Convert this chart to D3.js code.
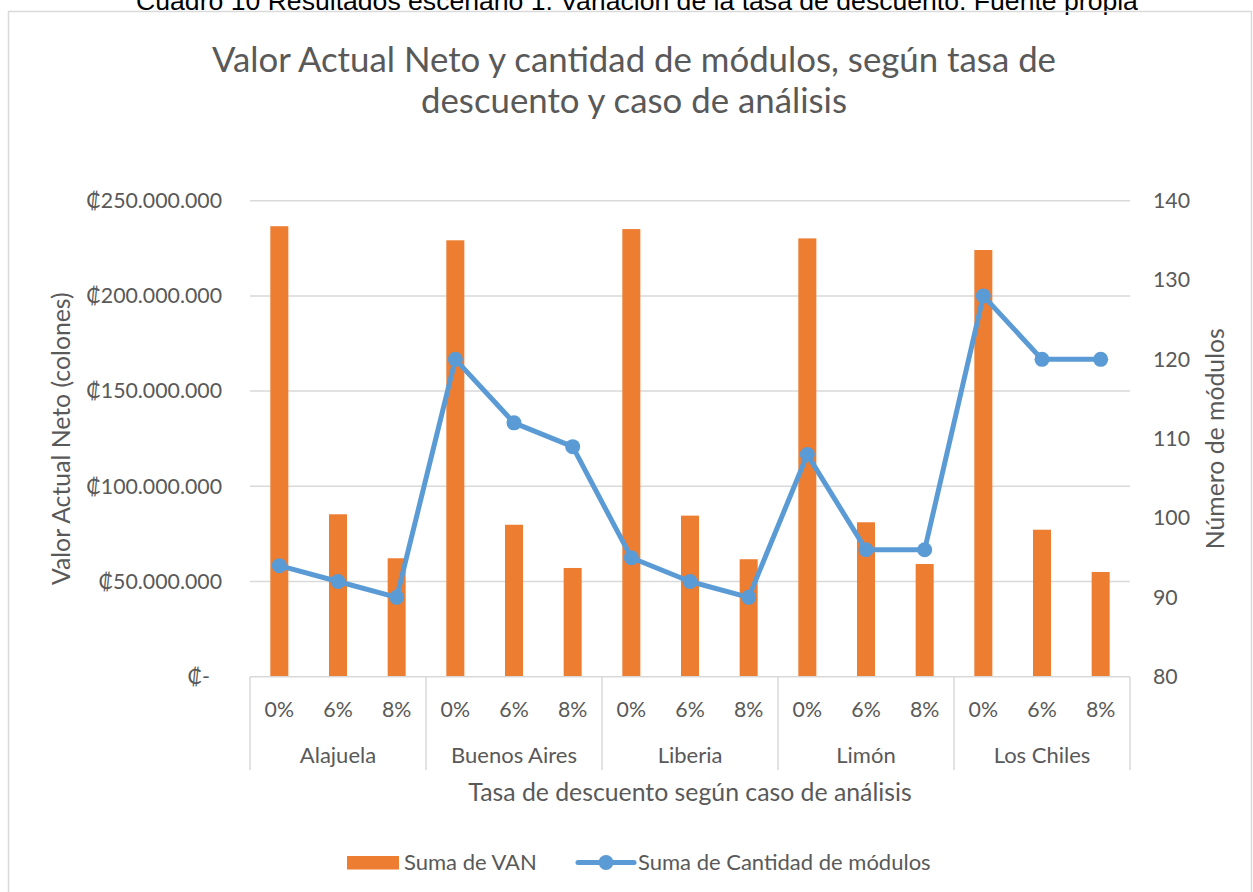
<!DOCTYPE html>
<html><head><meta charset="utf-8">
<script src="https://cdn.jsdelivr.net/npm/d3@7"></script>
<style>
html,body{margin:0;padding:0;background:#fff;}
svg{display:block;}
</style></head>
<body><svg id="c" width="1253" height="892"></svg>
<script>
const groups = ["Alajuela","Buenos Aires","Liberia","Limón","Los Chiles"];
const rates = ["0%","6%","8%"];
const van = [236.6e6,85.3e6,62.2e6, 229.2e6,79.8e6,57.1e6, 235.1e6,84.6e6,61.7e6, 230.2e6,81.1e6,59.2e6, 224.1e6,77.2e6,55.0e6];
const modulos = [94,92,90, 120,112,109, 95,92,90, 108,96,96, 128,120,120];
const leftTicks = [0,50e6,100e6,150e6,200e6,250e6];
const rightTicks = [80,90,100,110,120,130,140];

const caption = "Cuadro 10 Resultados escenario 1. Variación de la tasa de descuento. Fuente propia";
const titleLines = ["Valor Actual Neto y cantidad de módulos, según tasa de","descuento y caso de análisis"];

const FONT = "Lato, 'Open Sans', 'DejaVu Sans', sans-serif";
const GREY = "#595959";
const svg = d3.select("#c");

const rows = [];
groups.forEach((g,gi)=>rates.forEach((r,ri)=>rows.push({g, r, key:g+"|"+r, van:van[gi*3+ri], mod:modulos[gi*3+ri]})));

const L=250, R=1130, T=200.7, B=676.7;
const x = d3.scaleBand().domain(rows.map(d=>d.key)).range([L,R]).paddingInner(0.693).paddingOuter(0.3465);
const xg = d3.scaleBand().domain(groups).range([L,R]);
const y = d3.scaleLinear().domain([0,250e6]).range([B,T]);
const y2 = d3.scaleLinear().domain([80,140]).range([B,T]);

// caption
svg.append("text").attr("x",637).attr("y",10).attr("text-anchor","middle")
  .attr("font-family","'Liberation Sans', Arial, sans-serif").attr("font-size",26.6).attr("fill","#000").text(caption);
// border
svg.append("rect").attr("x",8.5).attr("y",11.5).attr("width",1243).attr("height",900)
  .attr("fill","none").attr("stroke","#d9d9d9").attr("stroke-width",1.5);

// title
svg.append("g").selectAll("text").data(titleLines).join("text")
  .attr("x",634).attr("y",(d,i)=>72+i*41).attr("text-anchor","middle")
  .attr("font-family",FONT).attr("font-size",34.8).attr("fill",GREY).text(d=>d);

// gridlines
svg.append("g").selectAll("line").data(leftTicks.slice(1)).join("line")
  .attr("x1",L).attr("x2",R).attr("y1",d=>y(d)).attr("y2",d=>y(d))
  .attr("stroke","#d9d9d9").attr("stroke-width",1.5);

// left axis
const fmt = d => d===0 ? "₡-" : "₡"+d3.format(",")(d).replace(/,/g,".");
const la = svg.append("g").attr("transform",`translate(${L},0)`)
  .call(d3.axisLeft(y).tickValues(leftTicks).tickFormat(fmt).tickSize(0).tickPadding(28));
la.select(".domain").remove();
la.selectAll("text").attr("font-family",FONT).attr("font-size",21.3).attr("fill",GREY);
la.selectAll(".tick").filter(d=>d===0).select("text").attr("dx",-12);

// right axis
const ra = svg.append("g").attr("transform",`translate(${R},0)`)
  .call(d3.axisRight(y2).tickValues(rightTicks).tickSize(0).tickPadding(23));
ra.select(".domain").remove();
ra.selectAll("text").attr("font-family",FONT).attr("font-size",21.3).attr("fill",GREY);

// bars
svg.append("g").selectAll("rect").data(rows).join("rect")
  .attr("x",d=>x(d.key)).attr("width",x.bandwidth())
  .attr("y",d=>y(d.van)).attr("height",d=>B-y(d.van)).attr("fill","#ED7D31");

// x axis box
const ax = svg.append("g");
ax.append("line").attr("x1",L).attr("x2",R).attr("y1",B).attr("y2",B).attr("stroke","#d9d9d9").attr("stroke-width",1.5);
const bounds = groups.map(g=>xg(g)).concat([R]);
ax.selectAll("line.v").data(bounds).join("line").attr("class","v")
  .attr("x1",d=>d).attr("x2",d=>d).attr("y1",B).attr("y2",770).attr("stroke","#d9d9d9").attr("stroke-width",1.5);
ax.selectAll("text.r").data(rows).join("text").attr("class","r")
  .attr("x",d=>x(d.key)+x.bandwidth()/2).attr("y",717).attr("text-anchor","middle")
  .attr("font-family",FONT).attr("font-size",21.3).attr("fill",GREY).text(d=>d.r);
ax.selectAll("text.g").data(groups).join("text").attr("class","g")
  .attr("x",d=>xg(d)+xg.bandwidth()/2).attr("y",763).attr("text-anchor","middle")
  .attr("font-family",FONT).attr("font-size",22).attr("fill",GREY).text(d=>d);

// axis titles
svg.append("text").attr("x",690).attr("y",801).attr("text-anchor","middle")
  .attr("font-family",FONT).attr("font-size",24.8).attr("fill",GREY).text("Tasa de descuento según caso de análisis");
svg.append("text").attr("transform",`translate(70,${(T+B)/2}) rotate(-90)`).attr("text-anchor","middle")
  .attr("font-family",FONT).attr("font-size",24.8).attr("fill",GREY).text("Valor Actual Neto (colones)");
svg.append("text").attr("transform",`translate(1224,${(T+B)/2}) rotate(-90)`).attr("text-anchor","middle")
  .attr("font-family",FONT).attr("font-size",24.8).attr("fill",GREY).text("Número de módulos");

// line
const cx = d=>x(d.key)+x.bandwidth()/2;
svg.append("path").datum(rows)
  .attr("d",d3.line().x(cx).y(d=>y2(d.mod)))
  .attr("fill","none").attr("stroke","#5B9BD5").attr("stroke-width",5).attr("stroke-linejoin","round");
svg.append("g").selectAll("circle").data(rows).join("circle")
  .attr("cx",cx).attr("cy",d=>y2(d.mod)).attr("r",7.5).attr("fill","#5B9BD5");

// legend
const lg = svg.append("g");
lg.append("rect").attr("x",347).attr("y",856).attr("width",52).attr("height",13.5).attr("fill","#ED7D31");
lg.append("text").attr("x",404).attr("y",870).attr("font-family",FONT).attr("font-size",22).attr("fill",GREY).text("Suma de VAN");
lg.append("line").attr("x1",578).attr("x2",634).attr("y1",862.5).attr("y2",862.5).attr("stroke","#5B9BD5").attr("stroke-width",5).attr("stroke-linecap","round");
lg.append("circle").attr("cx",606).attr("cy",862.5).attr("r",7.5).attr("fill","#5B9BD5");
lg.append("text").attr("x",638).attr("y",870).attr("font-family",FONT).attr("font-size",22).attr("fill",GREY).text("Suma de Cantidad de módulos");
</script></body></html>
